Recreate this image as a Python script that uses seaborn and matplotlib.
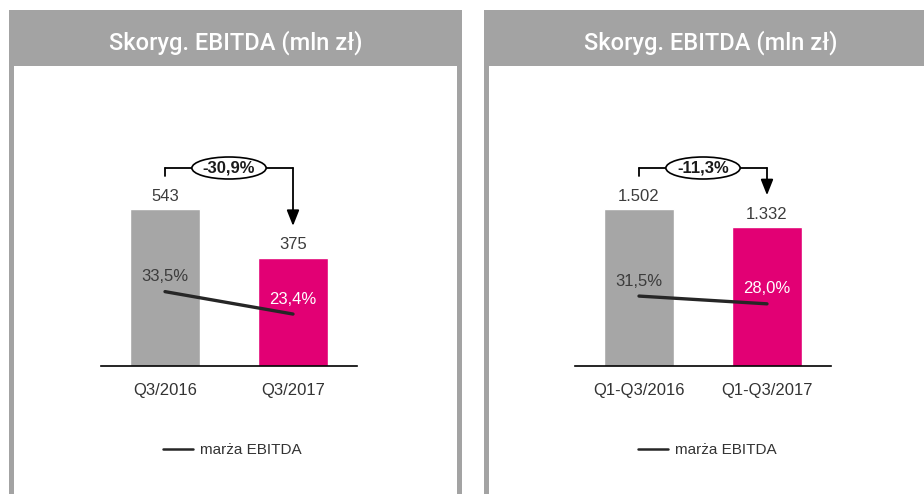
import matplotlib
matplotlib.use('Agg')
import matplotlib.pyplot as plt
import seaborn as sns
from matplotlib.patches import Rectangle, Ellipse
from matplotlib.lines import Line2D

# data
title = 'Skoryg. EBITDA (mln zł)'
legend_label = 'marża EBITDA'

periods_q = ['Q3/2016', 'Q3/2017']
ebitda_q = [543, 375]
ebitda_q_labels = ['543', '375']
margin_q = [33.5, 23.4]
margin_q_labels = ['33,5%', '23,4%']
change_q = '-30,9%'

periods_ytd = ['Q1-Q3/2016', 'Q1-Q3/2017']
ebitda_ytd = [1502, 1332]
ebitda_ytd_labels = ['1.502', '1.332']
margin_ytd = [31.5, 28.0]
margin_ytd_labels = ['31,5%', '28,0%']
change_ytd = '-11,3%'

GRAY = '#a6a6a6'
HEADER = '#a3a3a3'
MAGENTA = '#e20074'
TEXT = '#3c3c3c'
W, H = 924, 494

sns.set_style('white')
plt.rcParams['font.family'] = ['Liberation Sans', 'DejaVu Sans']

fig = plt.figure(figsize=(W / 100, H / 100), dpi=100)


def fx(px):
    return px / W


def fy(py):
    return 1 - py / H


def frame(x0):
    # grey header and the two side borders of a panel
    fig.add_artist(Rectangle((fx(x0), fy(66)), fx(453), 56 / H,
                             transform=fig.transFigure, color=HEADER, lw=0))
    for bx in (x0, x0 + 448):
        fig.add_artist(Rectangle((fx(bx), 0), fx(5), fy(10),
                                 transform=fig.transFigure, color=HEADER, lw=0))
    fig.text(fx(x0 + 226.5), fy(50), title, color='white', fontsize=17,
             family=['Roboto', 'DejaVu Sans'], fontweight='medium',
             ha='center', va='baseline')


def panel(x0, ax_left, periods, values, vlabels, margins, mlabels, change):
    frame(x0)
    ax = fig.add_axes([fx(ax_left), fy(366), fx(256), 216 / H])
    sns.barplot(x=periods, y=values, hue=periods, palette=[GRAY, MAGENTA],
                saturation=1, width=0.54, legend=False, ax=ax)
    ymax = values[0] * 216 / 156.5
    upp = ymax / 216  # data units per pixel
    ax.set_ylim(0, ymax)
    ax.set_xlim(-0.5, 1.5)
    ax.set_yticks([])
    ax.set_xlabel('')
    ax.set_ylabel('')
    sns.despine(ax=ax, left=True)
    ax.spines['bottom'].set_color('black')
    ax.spines['bottom'].set_linewidth(1.2)
    ax.tick_params(axis='x', length=0, pad=12, labelsize=12, labelcolor='#333333')

    for i, (v, lab) in enumerate(zip(values, vlabels)):
        ax.text(i, v + 13 * upp, lab, ha='center', va='center', fontsize=12, color=TEXT)

    # change bracket with arrow
    by = 198 * upp
    ax.plot([0, 0], [values[0] + 33 * upp, by], color='black', lw=1.3, clip_on=False)
    ax.plot([0, 1], [by, by], color='black', lw=1.3, clip_on=False)
    ax.annotate('', xy=(1, values[1] + 32 * upp), xytext=(1, by),
                arrowprops=dict(arrowstyle='-|>,head_length=0.68,head_width=0.27',
                                mutation_scale=14, color='black', lw=1.3,
                                shrinkA=0, shrinkB=0))
    ax.add_patch(Ellipse((0.5, by), 0.58, 22 * upp, fc='white', ec='black',
                         lw=1.2, zorder=5, clip_on=False))
    ax.text(0.5, by, change, ha='center', va='center', fontsize=12,
            fontweight='bold', color='#1a1a1a', zorder=6)

    # EBITDA margin on its own scale
    ax2 = ax.twinx()
    sns.lineplot(x=[0, 1], y=margins, ax=ax2, color='#262626', lw=2.4)
    ax2.set_ylim(0, 216 / 2.22)
    ax2.set_xlim(-0.5, 1.5)
    ax2.axis('off')
    for i, (m, lab) in enumerate(zip(margins, mlabels)):
        ax2.text(i, m + 15 / 2.22, lab, ha='center', va='center', fontsize=12,
                 color=[TEXT, 'white'][i])

    handle = Line2D([], [], color='#262626', lw=1.8)
    ax2.legend([handle], [legend_label], loc='center',
               bbox_to_anchor=(fx(x0 + 223), fy(450)), bbox_transform=fig.transFigure,
               frameon=False, fontsize=11, handlelength=1.95, handletextpad=0.45,
               labelcolor='#333333')


panel(9, 101, periods_q, ebitda_q, ebitda_q_labels, margin_q, margin_q_labels, change_q)
panel(484, 575, periods_ytd, ebitda_ytd, ebitda_ytd_labels, margin_ytd, margin_ytd_labels, change_ytd)

fig.savefig('out.png', dpi=100)
